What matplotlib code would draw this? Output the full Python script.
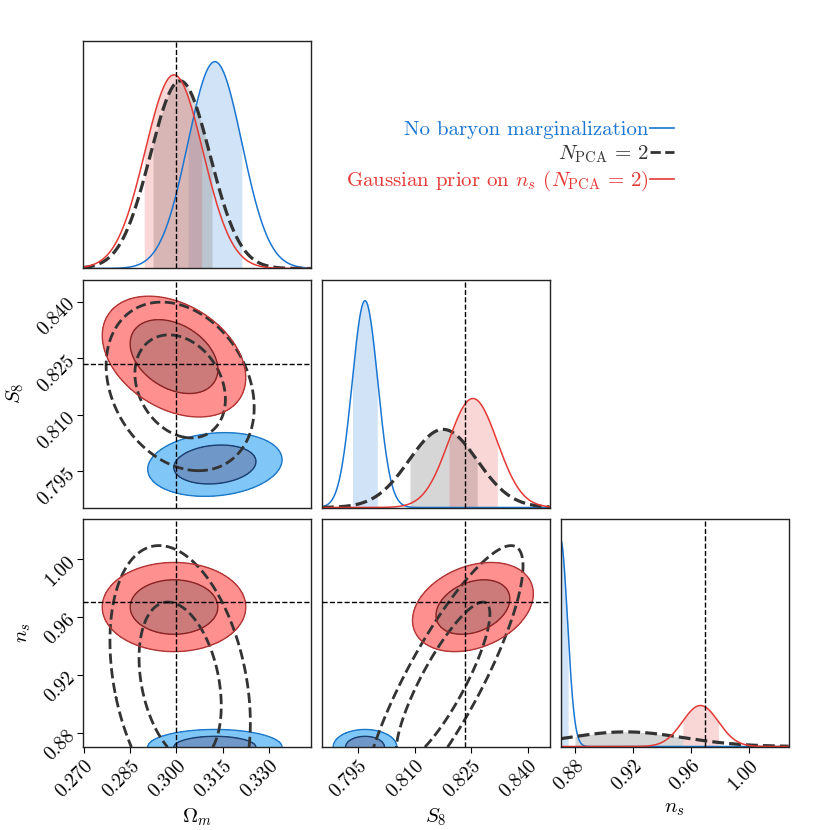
import math
import numpy as np
import matplotlib
matplotlib.use("Agg")
import matplotlib.pyplot as plt
from matplotlib.lines import Line2D

plt.rcParams['font.family'] = 'serif'
plt.rcParams['font.serif'] = ['cmr10']
plt.rcParams['mathtext.fontset'] = 'cm'
plt.rcParams['axes.formatter.use_mathtext'] = True
plt.rcParams['axes.unicode_minus'] = False

# ─────────────────────────────
# DATA
# ─────────────────────────────
param_labels = [r'$\Omega_m$', r'$S_8$', r'$n_s$']
truth = [0.300, 0.8234, 0.970]
axis_ranges = [(0.2696, 0.3436), (0.7854, 0.8457), (0.8704, 1.0275)]
tick_values = [[0.270, 0.285, 0.300, 0.315, 0.330],
               [0.795, 0.810, 0.825, 0.840],
               [0.88, 0.92, 0.96, 1.00]]
tick_labels = [['0.270', '0.285', '0.300', '0.315', '0.330'],
               ['0.795', '0.810', '0.825', '0.840'],
               ['0.88', '0.92', '0.96', '1.00']]
prior_lower = [None, None, 0.87]

chain_names = ['No baryon marginalization',
               r'$N_{\rm PCA}\,=\,2$',
               r'Gaussian prior on $n_s$ ($N_{\rm PCA}\,=\,2$)']

# posterior means / widths per chain  (Omega_m, S8, n_s)
blue_mean = [0.3125, 0.7968, 0.8700]
blue_sigma = [0.0088, 0.0034, 0.0049]
blue_corr = [[1.0, 0.15, 0.0], [0.15, 1.0, 0.0], [0.0, 0.0, 1.0]]
blue_interval = [(0.3037, 0.3213), (0.7934, 0.8001), (0.8704, 0.8754)]

black_mean = [0.3012, 0.8175, 0.915]
black_sigma = [0.0097, 0.0090, 0.040]
black_corr = [[1.0, -0.25, -0.3], [-0.25, 1.0, 0.85], [-0.3, 0.85, 1.0]]
black_interval = [(0.2923, 0.3116), (0.8087, 0.8266), (0.8800, 0.9546)]

red_mean = [0.2992, 0.8254, 0.9667]
red_sigma = [0.0094, 0.00645, 0.0124]
red_corr = [[1.0, -0.35, 0.0], [-0.35, 1.0, 0.3], [0.0, 0.3, 1.0]]
red_interval = [(0.2895, 0.3083), (0.8190, 0.8319), (0.9545, 0.9793)]

# ─────────────────────────────
# STYLE
# ─────────────────────────────
chains = [
    dict(name=chain_names[0], mean=blue_mean, sigma=blue_sigma, corr=blue_corr,
         interval=blue_interval, color='#1976D2', ls='-', lw=1.1,
         fills=['#55B5F5', '#3F75B5'], edges=['#1E78C8', '#1B3F6E'],
         fill1d='#1976D2', fill_alpha=0.2, filled=True),
    dict(name=chain_names[1], mean=black_mean, sigma=black_sigma, corr=black_corr,
         interval=black_interval, color='#333333', ls='--', lw=2.3,
         fills=None, edges=['#333333', '#333333'],
         fill1d='#999999', fill_alpha=0.4, filled=False),
    dict(name=chain_names[2], mean=red_mean, sigma=red_sigma, corr=red_corr,
         interval=red_interval, color='#E53935', ls='-', lw=1.1,
         fills=['#FF6B6B', '#BB4D4D'], edges=['#B03535', '#8A2525'],
         fill1d='#E53935', fill_alpha=0.2, filled=True),
]
sigma_levels = [0.683, 0.954]   # 2D contours drawn at the 1D sigma masses


def norm_cdf(z):
    return 0.5 * (1 + math.erf(z / math.sqrt(2)))


def pdf_1d(x, mu, sig, lower):
    y = np.exp(-0.5 * ((x - mu) / sig) ** 2) / (sig * math.sqrt(2 * math.pi))
    if lower is not None:
        y = np.where(x >= lower, y, 0.0)
        y = y / (1 - norm_cdf((lower - mu) / sig))
    return y


# ─────────────────────────────
# FIGURE
# ─────────────────────────────
fig = plt.figure(figsize=(8.3, 8.3), dpi=100)
W = 830.0
size, step, x0, y0 = 227.5, 239.0, 83.0, 41.0
n = 3
axes = {}
for r in range(n):
    for c in range(r + 1):
        ax = fig.add_axes([(x0 + c * step) / W, 1 - (y0 + r * step + size) / W,
                           size / W, size / W])
        axes[(r, c)] = ax

# diagonal panels
for i in range(n):
    ax = axes[(i, i)]
    lo, hi = axis_ranges[i]
    x = np.linspace(lo, hi, 800)
    ymax = 0
    for ch in chains:
        y = pdf_1d(x, ch['mean'][i], ch['sigma'][i], prior_lower[i])
        ymax = max(ymax, y.max())
        a, b = ch['interval'][i]
        m = (x >= a) & (x <= b)
        ax.fill_between(x[m], 0, y[m], color=ch['fill1d'], alpha=ch['fill_alpha'], lw=0)
        ax.plot(x, y, color=ch['color'], ls=ch['ls'], lw=ch['lw'])
    ax.axvline(truth[i], color='k', ls='--', lw=1.0, zorder=10)
    ax.set_xlim(lo, hi)
    ax.set_ylim(0, ymax * 1.1)
    ax.set_yticks([])

# off-diagonal panels
for r in range(n):
    for c in range(r):
        ax = axes[(r, c)]
        for ch in chains:
            mx, my = ch['mean'][c], ch['mean'][r]
            sx, sy = ch['sigma'][c], ch['sigma'][r]
            rho = ch['corr'][r][c]
            xl = mx - 6 * sx if prior_lower[c] is None else max(prior_lower[c], mx - 6 * sx)
            yl = my - 6 * sy if prior_lower[r] is None else max(prior_lower[r], my - 6 * sy)
            gx = np.linspace(xl, mx + 6 * sx, 400)
            gy = np.linspace(yl, my + 6 * sy, 400)
            X, Y = np.meshgrid(gx, gy)
            dx, dy = (X - mx) / sx, (Y - my) / sy
            Z = np.exp(-0.5 * (dx ** 2 - 2 * rho * dx * dy + dy ** 2) / (1 - rho ** 2))
            zs = np.sort(Z.ravel())[::-1]
            cs = np.cumsum(zs) / zs.sum()
            lev = [zs[np.searchsorted(cs, s)] for s in sigma_levels[::-1]]  # outer, inner
            if ch['filled']:
                ax.contourf(X, Y, Z, levels=[lev[0], lev[1], Z.max() * 1.01],
                            colors=ch['fills'], alpha=0.75)
                ax.contour(X, Y, Z, levels=lev, colors=ch['edges'], linewidths=1.0)
            else:
                ax.contour(X, Y, Z, levels=lev, colors=ch['edges'],
                           linewidths=2.0, linestyles='--')
        ax.axvline(truth[c], color='k', ls='--', lw=1.0, zorder=10)
        ax.axhline(truth[r], color='k', ls='--', lw=1.0, zorder=10)
        ax.set_xlim(*axis_ranges[c])
        ax.set_ylim(*axis_ranges[r])

# ticks and labels
for (r, c), ax in axes.items():
    for s in ax.spines.values():
        s.set_linewidth(1.0)
        s.set_color('#222222')
    ax.set_xticks(tick_values[c])
    if r == n - 1:
        ax.set_xticklabels(tick_labels[c], rotation=45, ha='right', va='top',
                           rotation_mode='anchor', fontsize=14)
        ax.set_xlabel(param_labels[c], fontsize=15, labelpad=4)
        ax.tick_params(axis='x', direction='out', length=4)
    else:
        ax.tick_params(axis='x', length=0, labelbottom=False)
    if r != c:
        ax.set_yticks(tick_values[r])
        if c == 0:
            ax.set_yticklabels(tick_labels[r], rotation=45, ha='right', va='center',
                               rotation_mode='anchor', fontsize=14)
            ax.set_ylabel(param_labels[r], fontsize=15, labelpad=6)
            ax.tick_params(axis='y', direction='out', length=4)
        else:
            ax.tick_params(axis='y', length=0, labelleft=False)

handles = [Line2D([0], [0], color=ch['color'], ls=ch['ls'],
                  lw=2.0 if ch['ls'] == '--' else 1.2) for ch in chains]
leg = fig.legend(handles, chain_names, loc='upper right', bbox_to_anchor=(0.835, 0.877),
                 frameon=False, markerfirst=False, fontsize=15, handlelength=1.15,
                 handletextpad=0.1, labelcolor='linecolor', labelspacing=0.2)

plt.savefig("out.png", dpi=100)
